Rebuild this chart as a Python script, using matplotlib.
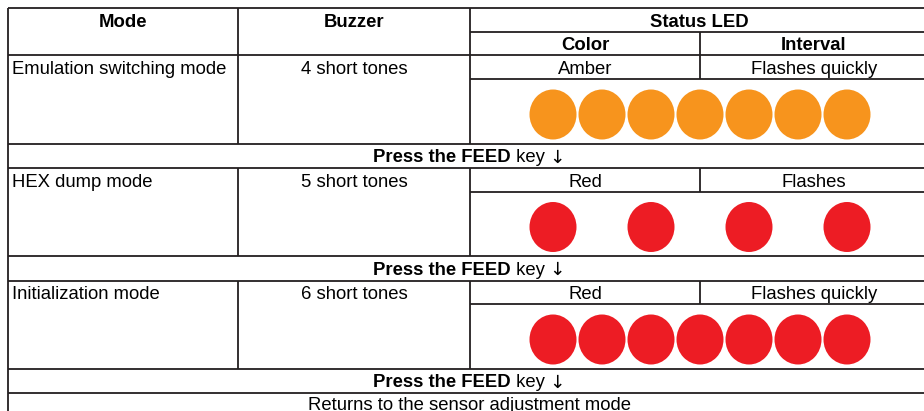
import matplotlib
matplotlib.use("Agg")
import matplotlib.pyplot as plt
from matplotlib.patches import Ellipse

plt.rcParams['font.family'] = ['Liberation Sans', 'DejaVu Sans']

# ---- data ----
headers = ["Mode", "Buzzer", "Status LED"]
sub_headers = ["Color", "Interval"]
modes = ["Emulation switching mode", "HEX dump mode", "Initialization mode"]
buzzer = ["4 short tones", "5 short tones", "6 short tones"]
led_colors = ["Amber", "Red", "Red"]
intervals = ["Flashes quickly", "Flashes", "Flashes quickly"]
led_patterns = [[1, 1, 1, 1, 1, 1, 1],
                [1, 0, 1, 0, 1, 0, 1],
                [1, 1, 1, 1, 1, 1, 1]]
transition_bold = "Press the FEED"
transition_rest = " key "
transition_arrow = "\u2193"
final_text = "Returns to the sensor adjustment mode"

color_map = {"Amber": "#F7941D", "Red": "#ED1C24"}

# ---- layout (pixel coords) ----
W, H = 924, 411
L, R = 8, 928
c1, c2, c3 = 238, 470, 700
top = 8
hdr1 = 32
hdr2 = 55
row_tops = [55, 168, 281]
row_subs = [79, 192, 304]
row_bots = [144, 256, 369]
press_bots = [168, 281, 393]
slot_x0, slot_dx = 553, 49
ew, eh = 47, 50
fs = 13.3
lc = "#231f20"
lw = 1.3

fig = plt.figure(figsize=(W / 100, H / 100), dpi=100)
ax = fig.add_axes([0, 0, 1, 1])
ax.set_xlim(0, W)
ax.set_ylim(H, 0)
ax.axis("off")
renderer = fig.canvas.get_renderer()

def hline(y, x0=L, x1=R):
    ax.plot([x0, x1], [y, y], color=lc, lw=lw, solid_capstyle="butt")

def vline(x, y0, y1):
    ax.plot([x, x], [y0, y1], color=lc, lw=lw, solid_capstyle="butt")

def width_px(s, **kw):
    t = ax.text(0, 0, s, fontsize=fs, **kw)
    w = t.get_window_extent(renderer).width
    t.remove()
    return w

# header
hline(top)
hline(hdr1, c2, R)
hline(hdr2)
vline(L, top, H + 5)
vline(c1, top, hdr2)
vline(c2, top, hdr2)
vline(c3, hdr1, hdr2)
ax.text((L + c1) / 2, 22.5, headers[0], ha="center", va="center", fontsize=fs, fontweight="bold")
ax.text((c1 + c2) / 2, 22.5, headers[1], ha="center", va="center", fontsize=fs, fontweight="bold")
ax.text((c2 + R) / 2, 22.5, headers[2], ha="center", va="center", fontsize=fs, fontweight="bold")
ax.text((c2 + c3) / 2, 45.5, sub_headers[0], ha="center", va="center", fontsize=fs, fontweight="bold")
ax.text((c3 + R) / 2, 45.5, sub_headers[1], ha="center", va="center", fontsize=fs, fontweight="bold")

wb = width_px(transition_bold, fontweight="bold")
wr = width_px(transition_rest)
wa = width_px(transition_arrow, family="DejaVu Sans")
total = wb + wr + wa
px0 = 469 - total / 2

for i in range(3):
    t, s, b, pb = row_tops[i], row_subs[i], row_bots[i], press_bots[i]
    vline(c1, t, b)
    vline(c2, t, b)
    vline(c3, t, s)
    hline(s, c2, R)
    hline(b)
    hline(pb)
    yc = (t + s) / 2 + 2
    ax.text(L + 4, yc, modes[i], ha="left", va="center", fontsize=fs)
    ax.text((c1 + c2) / 2, yc, buzzer[i], ha="center", va="center", fontsize=fs)
    ax.text((c2 + c3) / 2, yc, led_colors[i], ha="center", va="center", fontsize=fs)
    ax.text((c3 + R) / 2, yc, intervals[i], ha="center", va="center", fontsize=fs)
    cy = (s + b) / 2 + 3
    for k, on in enumerate(led_patterns[i]):
        if on:
            ax.add_patch(Ellipse((slot_x0 + k * slot_dx, cy), ew, eh,
                                 facecolor=color_map[led_colors[i]], edgecolor="none"))
    py = (b + pb) / 2 + 1.5
    ax.text(px0, py, transition_bold, ha="left", va="center", fontsize=fs, fontweight="bold")
    ax.text(px0 + wb, py, transition_rest, ha="left", va="center", fontsize=fs)
    ax.text(px0 + wb + wr, py, transition_arrow, ha="left", va="center", fontsize=fs,
            family="DejaVu Sans")

ax.text(470, 405, final_text, ha="center", va="center", fontsize=fs)

fig.savefig("out.png", dpi=100)
